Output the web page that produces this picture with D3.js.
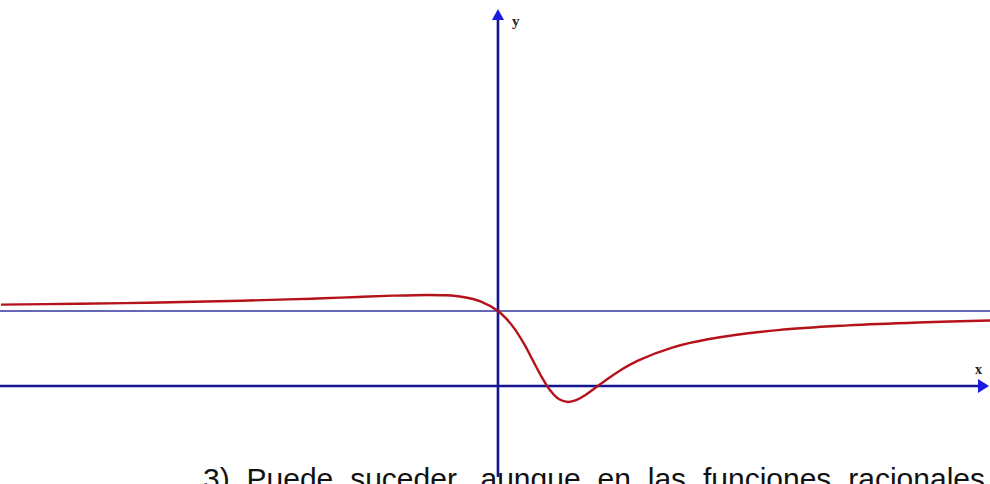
<!DOCTYPE html>
<html>
<head>
<meta charset="utf-8">
<script src="https://cdn.jsdelivr.net/npm/d3@7"></script>
<style>
  html, body { margin: 0; padding: 0; background: #fff; overflow: hidden; }
  svg { display: block; }
</style>
</head>
<body>
<svg id="chart" width="990" height="484"></svg>
<script>
// Sampled points of the rational function y = f(x), asymptote y = 1
const xs = [-7.1, -6, -5, -4, -3, -2.5, -2, -1.5, -1, -0.75, -0.5, -0.25, 0,
            0.125, 0.25, 0.375, 0.5, 0.625, 0.75, 0.875, 1, 1.125, 1.25, 1.5, 1.75,
            2, 2.5, 3, 4, 5, 6, 7.1];
const ys = [1.084, 1.096, 1.110, 1.129, 1.154, 1.169, 1.187, 1.204, 1.214, 1.209, 1.187, 1.129, 1.0,
            0.892, 0.745, 0.557, 0.338, 0.118, -0.065, -0.178, -0.213, -0.186, -0.12, 0.050, 0.210,
            0.338, 0.515, 0.623, 0.745, 0.808, 0.847, 0.875];
const asymptote = 1;
const axisLabels = ["x", "y"];
const caption = "3) Puede suceder, aunque en las funciones racionales";

const svg = d3.select("#chart");

// 70 px per unit horizontally, 75 px per unit vertically
const x = d3.scaleLinear().domain([-7.114, 7.029]).range([0, 990]);
const y = d3.scaleLinear().domain([-1.227, 5.013]).range([478, 10]);

const axisColor = "#15158f";
const arrowColor = "#1a1ae0";

// horizontal asymptote
svg.append("line")
  .attr("x1", 0).attr("x2", 990)
  .attr("y1", y(asymptote)).attr("y2", y(asymptote))
  .attr("stroke", "#3535a0").attr("stroke-width", 1.3);

// x axis
svg.append("line")
  .attr("x1", 0).attr("x2", 980)
  .attr("y1", y(0)).attr("y2", y(0))
  .attr("stroke", axisColor).attr("stroke-width", 2.6);
svg.append("path")
  .attr("d", d3.line()([[978, y(0) - 7], [989, y(0)], [978, y(0) + 7]]) + "Z")
  .attr("fill", arrowColor);

// y axis
svg.append("line")
  .attr("x1", x(0)).attr("x2", x(0))
  .attr("y1", 18).attr("y2", 477)
  .attr("stroke", axisColor).attr("stroke-width", 2.6);
svg.append("path")
  .attr("d", d3.line()([[x(0) - 6, 20], [x(0), 9], [x(0) + 6, 20]]) + "Z")
  .attr("fill", arrowColor);

// axis letters
svg.append("text")
  .attr("x", 975).attr("y", 374)
  .attr("font-family", "Liberation Serif, DejaVu Serif, serif")
  .attr("font-weight", "bold")
  .attr("font-size", 14).attr("fill", "#222")
  .text(axisLabels[0]);
svg.append("text")
  .attr("x", 512).attr("y", 26)
  .attr("font-family", "Liberation Serif, DejaVu Serif, serif")
  .attr("font-weight", "bold")
  .attr("font-size", 15).attr("fill", "#222")
  .text(axisLabels[1]);

// the curve
const pts = xs.map((d, i) => [x(d), y(ys[i])]);
svg.append("path")
  .attr("d", d3.line().curve(d3.curveCatmullRom.alpha(0.5))(pts))
  .attr("fill", "none")
  .attr("stroke", "#b5121b")
  .attr("stroke-width", 2.4)
  .attr("stroke-linejoin", "round");

// justified caption line, running on past the bottom edge
const cap = svg.append("text")
  .attr("x", 203).attr("y", 489)
  .attr("font-family", "Liberation Sans, Arial, sans-serif")
  .attr("font-size", 30).attr("fill", "#111")
  .text(caption);
const natural = cap.node().getComputedTextLength();
const gaps = caption.split(" ").length - 1;
cap.attr("word-spacing", (985 - 203 - natural) / gaps);
</script>
</body>
</html>
